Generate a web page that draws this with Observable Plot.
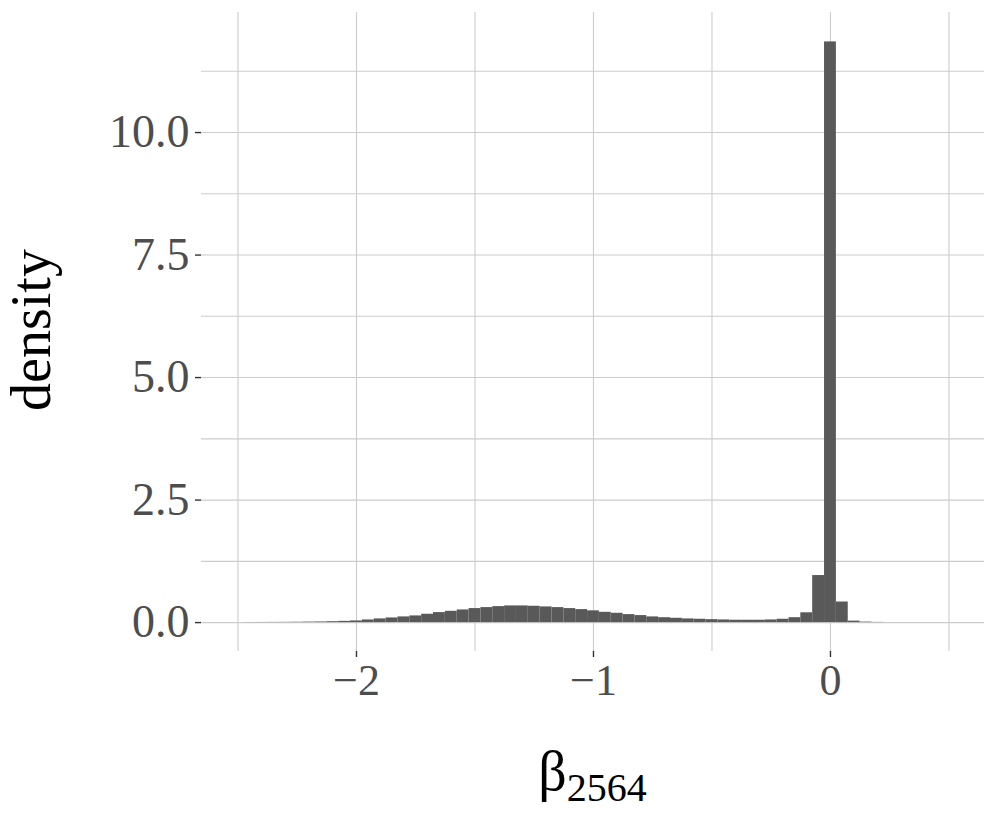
<!DOCTYPE html>
<html>
<head>
<meta charset="utf-8">
<script src="https://cdn.jsdelivr.net/npm/d3@7"></script>
<script src="https://cdn.jsdelivr.net/npm/@observablehq/plot@0.6"></script>
<style>
  html, body { margin: 0; padding: 0; background: #ffffff; }
  #wrap { position: relative; width: 997px; height: 830px; font-family: "Liberation Serif", "Times New Roman", serif; }
  #ylab { position: absolute; left: 31px; top: 330px; transform: translate(-50%, -50%) rotate(-90deg);
          font-size: 56px; line-height: 56px; color: #000; white-space: nowrap; }
  #xlab { position: absolute; left: 592.5px; top: 743px; transform: translateX(-50%);
          font-size: 56px; line-height: 56px; color: #000; white-space: nowrap; }
  #xlab .sub { font-size: 40px; position: relative; top: 11px; }
</style>
</head>
<body>
<div id="wrap">
  <div id="ylab">density</div>
  <div id="xlab">β<span class="sub">2564</span></div>
</div>
<script>
// Histogram bin centers (bin width 0.05) and density heights
const binWidth = 0.05;
const binCenters = [-2.45,-2.4,-2.35,-2.3,-2.25,-2.2,-2.15,-2.1,-2.05,
  -2.0,-1.95,-1.9,-1.85,-1.8,-1.75,-1.7,-1.65,-1.6,-1.55,
  -1.5,-1.45,-1.4,-1.35,-1.3,-1.25,-1.2,-1.15,-1.1,-1.05,
  -1.0,-0.95,-0.9,-0.85,-0.8,-0.75,-0.7,-0.65,-0.6,-0.55,
  -0.5,-0.45,-0.4,-0.35,-0.3,-0.25,-0.2,-0.15,-0.1,-0.05,
  0,0.05,0.1,0.15,0.2];
const densities = [0.002,0.003,0.004,0.005,0.007,0.010,0.013,0.018,0.025,
  0.034,0.054,0.075,0.095,0.116,0.136,0.17,0.204,0.23,0.258,
  0.286,0.306,0.326,0.34,0.34,0.333,0.32,0.306,0.286,0.265,
  0.24,0.21,0.19,0.163,0.143,0.116,0.10,0.088,0.075,0.068,
  0.06,0.054,0.048,0.048,0.048,0.054,0.068,0.10,0.20,0.96,
  11.85,0.42,0.03,0.01,0.004];

const xMajorTicks = [-2, -1, 0];
const xMinorTicks = [-2.5, -1.5, -0.5, 0.5];
const yMajorTicks = [0, 2.5, 5, 7.5, 10];
const yMinorTicks = [1.25, 3.75, 6.25, 8.75, 11.25];

const bins = binCenters.map((c, i) => ({x1: c - binWidth / 2, x2: c + binWidth / 2, density: densities[i]}));

const gridStyle = {stroke: "#cccccc", strokeOpacity: 1, strokeWidth: 1.1};
const fmtX = d => (d < 0 ? "\u2212" + Math.abs(d) : String(d));
const fmtY = d => d.toFixed(1);

const chart = Plot.plot({
  width: 997,
  height: 830,
  marginLeft: 201,
  marginRight: 13,
  marginTop: 12,
  marginBottom: 179,
  style: {fontFamily: "'Liberation Serif', 'Times New Roman', serif", background: "transparent"},
  x: {domain: [-2.654, 0.650]},
  y: {domain: [-0.59, 12.45]},
  marks: [
    Plot.gridX(xMinorTicks, gridStyle),
    Plot.gridX(xMajorTicks, gridStyle),
    Plot.gridY(yMinorTicks, gridStyle),
    Plot.gridY(yMajorTicks, gridStyle),
    Plot.rectY(bins, {x1: "x1", x2: "x2", y: "density", fill: "#595959"}),
    Plot.axisX(xMajorTicks, {tickSize: 6, tickPadding: 6, fontSize: 44, stroke: "#333333", fill: "#4d4d4d", strokeWidth: 1.4, tickFormat: fmtX, label: null}),
    Plot.axisY(yMajorTicks, {tickSize: 6, tickPadding: 6, fontSize: 46, stroke: "#333333", fill: "#4d4d4d", strokeWidth: 1.4, tickFormat: fmtY, label: null})
  ]
});
chart.style.position = "absolute";
chart.style.left = "0px";
chart.style.top = "0px";
document.getElementById("wrap").prepend(chart);
</script>
</body>
</html>
